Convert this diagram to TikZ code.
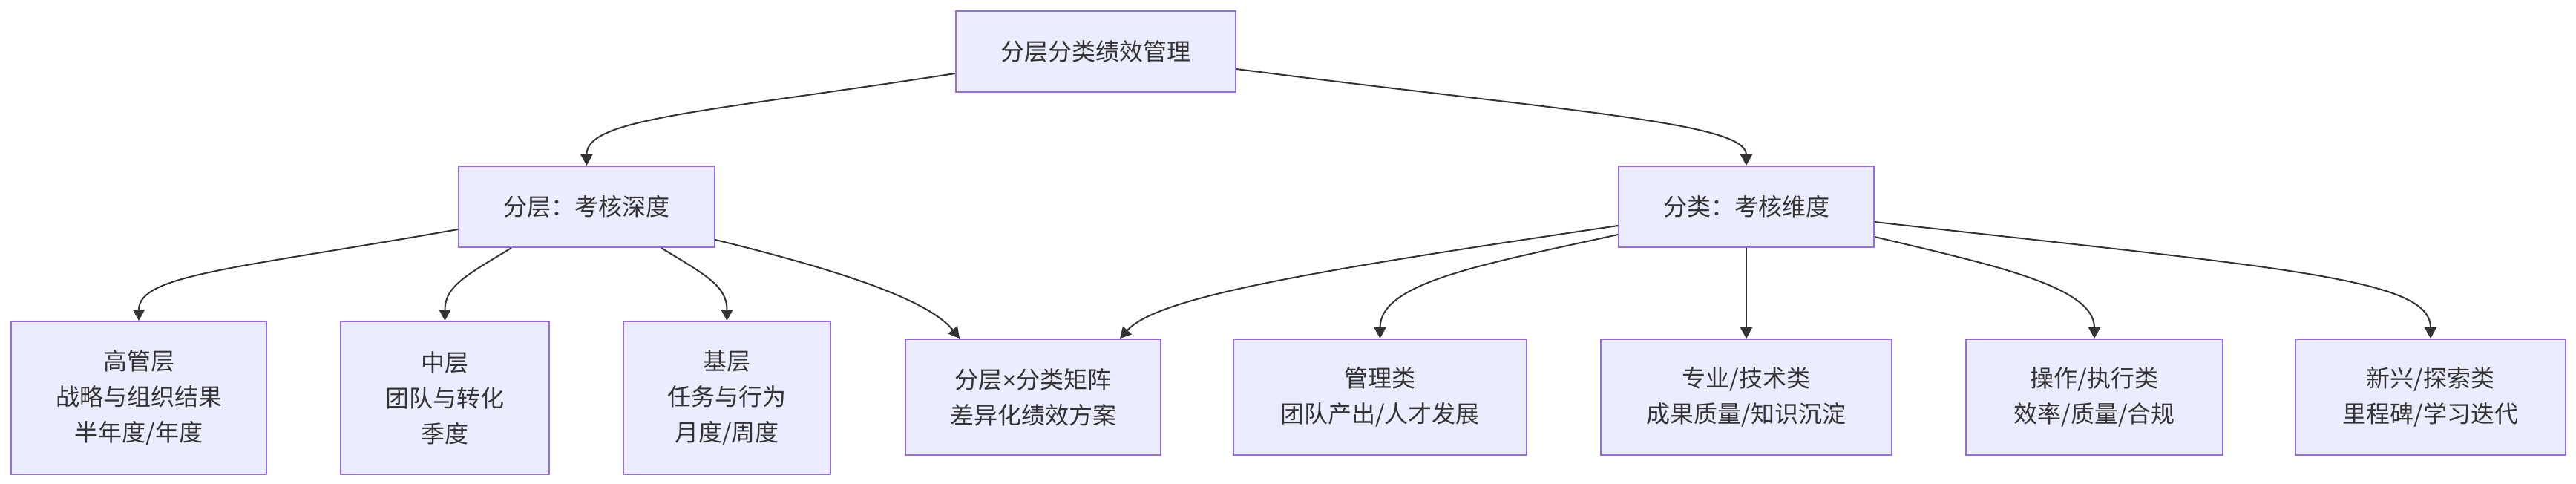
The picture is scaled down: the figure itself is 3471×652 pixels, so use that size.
\documentclass[tikz,border=0pt]{standalone}
\usepackage{fontspec}
\setmainfont{Noto Sans CJK SC}
\newfontfamily\latinfont{Liberation Sans}
\usetikzlibrary{arrows.meta,calc}
\definecolor{nodefill}{HTML}{ECECFF}
\definecolor{nodestroke}{HTML}{9370DB}
\definecolor{ink}{HTML}{333333}
\begin{document}
\begin{tikzpicture}[x=1pt,y=-1pt,
  box/.style={draw=nodestroke, fill=nodefill, line width=2pt, inner sep=0pt, align=center, text=ink, font=\fontsize{32}{48}\selectfont},
  edge/.style={draw=ink, line width=2pt, -{Triangle[length=15pt,width=16pt]}}]
\path[fill=white,use as bounding box] (0,0) rectangle (3471,652);
% top
\node[box, minimum width=377pt, minimum height=109pt] (root) at (1476.5,69.5) {分层分类绩效管理};
% middle
\node[box, minimum width=345pt, minimum height=109pt] (L) at (790.5,278.5) {分层：考核深度};
\node[box, minimum width=344pt, minimum height=109pt] (C) at (2353,278.5) {分类：考核维度};
% bottom tall
\node[box, minimum width=344pt, minimum height=206pt] (b1) at (187,536) {高管层\\战略与组织结果\\半年度/年度};
\node[box, minimum width=281pt, minimum height=206pt] (b2) at (599.5,536) {中层\\团队与转化\\季度};
\node[box, minimum width=279pt, minimum height=206pt] (b3) at (979.5,536) {基层\\任务与行为\\月度/周度};
% bottom short
\node[box, minimum width=344pt, minimum height=156pt] (m) at (1392,535) {分层{\latinfont ×}分类矩阵\\差异化绩效方案};
\node[box, minimum width=395pt, minimum height=156pt] (c1) at (1859.5,535) {管理类\\团队产出/人才发展};
\node[box, minimum width=392pt, minimum height=156pt] (c2) at (2353,535) {专业/技术类\\成果质量/知识沉淀};
\node[box, minimum width=346pt, minimum height=156pt] (c3) at (2822,535) {操作/执行类\\效率/质量/合规};
\node[box, minimum width=364pt, minimum height=156pt] (c4) at (3275,535) {新兴/探索类\\里程碑/学习迭代};
% edges
\draw[edge] ([yshift=-29.5pt]root.west) .. controls (940,152) and (790,160) .. (L.north);
\draw[edge] ([yshift=-23.5pt]root.east) .. controls (2120,151) and (2353,165) .. (C.north);
\draw[edge] ([yshift=-30.5pt]L.west) .. controls (317,362) and (187,370) .. (b1.north);
\draw[edge] ([xshift=-101.5pt]L.south) .. controls (630,370) and (599.5,385) .. (b2.north);
\draw[edge] ([xshift=100.5pt]L.south) .. controls (950,370) and (979.5,385) .. (b3.north);
\draw[edge] ([yshift=-44.5pt]L.east) .. controls (1110,359) and (1248,400) .. ([xshift=-99pt]m.north);
\draw[edge] ([yshift=-25.5pt]C.west) .. controls (1761,366) and (1560,400) .. ([xshift=117pt]m.north);
\draw[edge] ([yshift=-37.5pt]C.west) .. controls (2000,356) and (1859.5,380) .. (c1.north);
\draw[edge] (C.south) -- (c2.north);
\draw[edge] ([yshift=-40.5pt]C.east) .. controls (2680,356) and (2822,385) .. (c3.north);
\draw[edge] ([yshift=-20.5pt]C.east) .. controls (3085,362) and (3275,375) .. (c4.north);
\end{tikzpicture}
\end{document}
